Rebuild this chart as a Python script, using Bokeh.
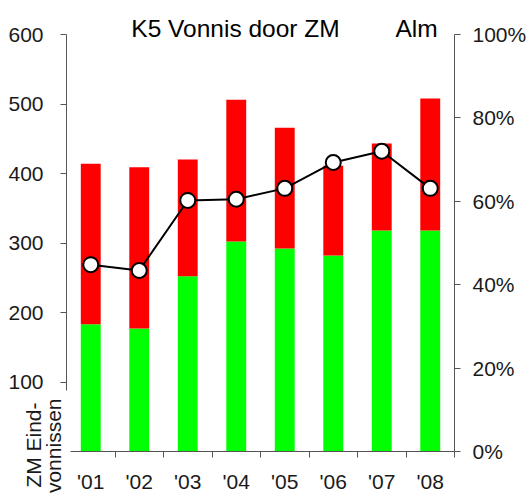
from bokeh.plotting import figure
from bokeh.models import ColumnDataSource, Range1d, LinearAxis, FixedTicker, PrintfTickFormatter, Label
from bokeh.embed import file_html
from bokeh.resources import INLINE

# ---- data ----
years = ["'01", "'02", "'03", "'04", "'05", "'06", "'07", "'08"]
xpos = [1, 2, 3, 4, 5, 6, 7, 8]
green_vals = [183, 177, 252, 302, 292, 282, 318, 318]   # ZM eindvonnissen
red_vals = [231, 232, 168, 204, 174, 129, 125, 190]     # overige vonnissen
pct_vals = [44.8, 43.4, 60.2, 60.5, 63.1, 69.3, 72.0, 63.1]
left_ticks = [100, 200, 300, 400, 500, 600]
right_ticks = [0, 20, 40, 60, 80, 100]
title_texts = ["K5 Vonnis door ZM", "Alm"]
caption_lines = ["ZM Eind-", "vonnissen"]

# ---- layout (canvas pixels) ----
W, H = 529, 495
PL, PR, PT, PB = 66, 454, 34, 451          # plot-area edges inside the canvas
X0, X1, Y0, Y1, P0, P1 = 0.5, 8.5, 0, 600, 0, 100
kx = (PR - PL) / (X1 - X0)
ky = (PB - PT) / (Y1 - Y0)
kp = (PB - PT) / (P1 - P0)

FONT = "Liberation Sans"
TXT = "#1a1a1a"
AX = "#555555"

src = ColumnDataSource(dict(x=xpos, green=green_vals, red=red_vals, pct=pct_vals))

p = figure(width=W, height=H, output_backend="svg", toolbar_location=None, title=None,
           x_range=Range1d(X0 - PL / kx, X1 + (W - PR) / kx),
           y_range=Range1d(Y0 - (H - PB) / ky, Y1 + PT / ky),
           min_border=0)
p.outline_line_color = None
p.xgrid.visible = False
p.ygrid.visible = False
p.background_fill_color = "white"
p.border_fill_color = "white"
p.extra_y_ranges = {"pct": Range1d(P0 - (H - PB) / kp, P1 + PT / kp)}

p.vbar_stack(["green", "red"], x="x", width=0.41, source=src,
             fill_color=["#00FF00", "#FF0000"], line_color=None)
p.line("x", "pct", source=src, y_range_name="pct", line_color="black", line_width=2)
p.scatter("x", "pct", source=src, y_range_name="pct", size=15,
          fill_color="white", line_color="black", line_width=2)

# x axis (drawn at y = 0)
xa = p.xaxis[0]
xa.fixed_location = Y0
xa.ticker = FixedTicker(ticks=xpos, minor_ticks=[v + 0.5 for v in xpos])
xa.major_label_overrides = {v: lab for v, lab in zip(xpos, years)}
xa.bounds = (0.58, X1)
xa.axis_line_color = AX
xa.major_tick_line_color = None
xa.major_tick_out = 6
xa.major_tick_in = 0
xa.minor_tick_line_color = AX
xa.minor_tick_out = 6
xa.minor_tick_in = 0
xa.major_label_standoff = 12
xa.major_label_text_font = FONT
xa.major_label_text_font_size = "21px"
xa.major_label_text_color = TXT

# left axis (drawn at x = 0.5)
ya = p.yaxis[0]
ya.fixed_location = X0
ya.ticker = FixedTicker(ticks=left_ticks)
ya.bounds = (88, Y1)
ya.axis_line_color = AX
ya.major_tick_line_color = AX
ya.major_tick_out = 6
ya.major_tick_in = 0
ya.minor_tick_line_color = None
ya.major_label_standoff = 17
ya.major_label_text_font = FONT
ya.major_label_text_font_size = "21px"
ya.major_label_text_color = TXT

# right axis (drawn at x = 8.5)
ra = LinearAxis(y_range_name="pct", ticker=FixedTicker(ticks=right_ticks),
                formatter=PrintfTickFormatter(format="%d%%"), fixed_location=X1)
ra.bounds = (P0, P1)
ra.axis_line_color = AX
ra.major_tick_line_color = AX
ra.major_tick_out = 6
ra.major_tick_in = 0
ra.minor_tick_line_color = None
ra.major_label_standoff = 12
ra.major_label_text_font = FONT
ra.major_label_text_font_size = "21px"
ra.major_label_text_color = TXT
p.add_layout(ra, "right")

# titles (screen offsets from the canvas' bottom-left)
for tx, t in zip([235, 416], title_texts):
    p.add_layout(Label(x=tx, y=H - 28.3, x_units="screen", y_units="screen", text=t,
                       text_font=FONT, text_font_size="24.5px", text_color="black",
                       text_align="center", text_baseline="alphabetic"))

# rotated axis caption
for (cx, cy), line in zip([(33, H - 402), (53, H - 398)], caption_lines):
    p.add_layout(Label(x=cx, y=cy, x_units="screen", y_units="screen", text=line,
                       text_font=FONT, text_font_size="21px", text_color=TXT,
                       angle=1.5707963, text_align="right", text_baseline="alphabetic"))

open("out.html", "w").write(file_html(p, INLINE))
